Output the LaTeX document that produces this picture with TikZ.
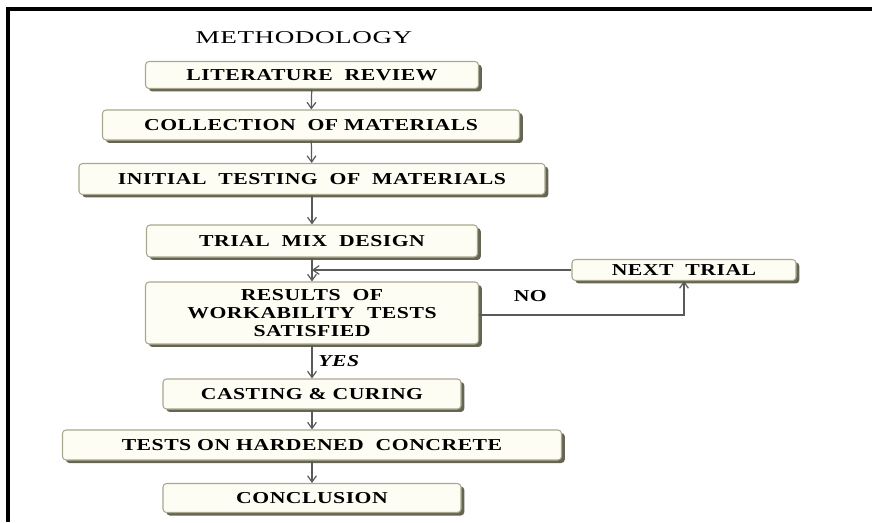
\documentclass[tikz,border=0pt]{standalone}
\usepackage{fontspec}
\setmainfont{Liberation Serif}
\newfontfamily\flowfont{Liberation Serif}[FakeStretch=1.3, LetterSpace=3]
\newfontfamily\titlefont{Liberation Serif}[FakeStretch=1.5, LetterSpace=3]
\usepackage{xcolor}
\usepackage{tikz}
\usetikzlibrary{arrows.meta, positioning, shadows}
\definecolor{boxfill}{HTML}{FEFDF3}
\definecolor{boxedge}{HTML}{A9A78E}
\definecolor{boxshade}{HTML}{5E5C4A}
\definecolor{linkgray}{HTML}{5A5A5A}

\begin{document}
\begin{tikzpicture}[x=0.02cm, y=-0.02cm,
    stepbox/.style={rectangle, rounded corners=2pt, draw=boxedge, fill=boxfill, line width=0.6pt,
        drop shadow={shadow xshift=1.9pt, shadow yshift=-1.7pt, fill=boxshade, opacity=0.95},
        minimum width=#1*0.02cm, minimum height=27*0.02cm, inner sep=1pt,
        font=\flowfont\bfseries\fontsize{9.5}{10.2}\selectfont, align=center},
    link/.style={draw=linkgray, line width=0.7pt, -{Straight Barb[length=3.5pt, width=5pt]}},
    tag/.style={font=\flowfont\bfseries\fontsize{9.5}{11}\selectfont}
]
\useasboundingbox (0,0) rectangle (872,522);
% frame (only top and left edge show)
\draw[line width=2pt] (872,9) -- (8,9) -- (8,522);

\node[font=\titlefont\fontsize{10.3}{12}\selectfont] (title) at (304,38) {METHODOLOGY};

% main column
\node[stepbox=333] (lit) at (312,75) {LITERATURE\ \ REVIEW};
\node[stepbox=417, minimum height=30*0.02cm] (coll) at (311,125) {COLLECTION\ \ OF MATERIALS};
\node[stepbox=466, minimum height=31*0.02cm] (init) at (312,179) {INITIAL\ \ TESTING\ \ OF\ \ MATERIALS};
\node[stepbox=331, minimum height=32*0.02cm] (trial) at (312,241) {TRIAL\ \ MIX\ \ DESIGN};
\node[stepbox=333, minimum height=62*0.02cm] (res) at (312,313) {RESULTS\ \ OF\\WORKABILITY\ \ TESTS\\SATISFIED};
\node[stepbox=298, minimum height=30*0.02cm] (cast) at (312,394) {CASTING \& CURING};
\node[stepbox=499, minimum height=30*0.02cm] (harden) at (312,445) {TESTS ON HARDENED\ \ CONCRETE};
\node[stepbox=298, minimum height=29*0.02cm] (concl) at (312,498) {CONCLUSION};

% loop back
\node[stepbox=224, minimum height=21*0.02cm] (next) at (684,270) {NEXT\ \ TRIAL};
\coordinate (join) at (trial.south |- next.west);

\draw[link] (lit) -- (coll);
\draw[link] (coll) -- (init);
\draw[link] (init) -- (trial);
\draw[link] (trial) -- (res);
\draw[link] (res) -- node[tag, right, font=\flowfont\bfseries\itshape\fontsize{9.5}{11}\selectfont] {YES} (cast);
\draw[link] (cast) -- (harden);
\draw[link] (harden) -- (concl);

\draw[link] (res.east |- 0,315) -- node[tag, above=4pt, pos=0.25] {NO} (next.south |- 0,315) -- (next.south);
\draw[link] (next.west) -- (join);

\end{tikzpicture}
\end{document}
